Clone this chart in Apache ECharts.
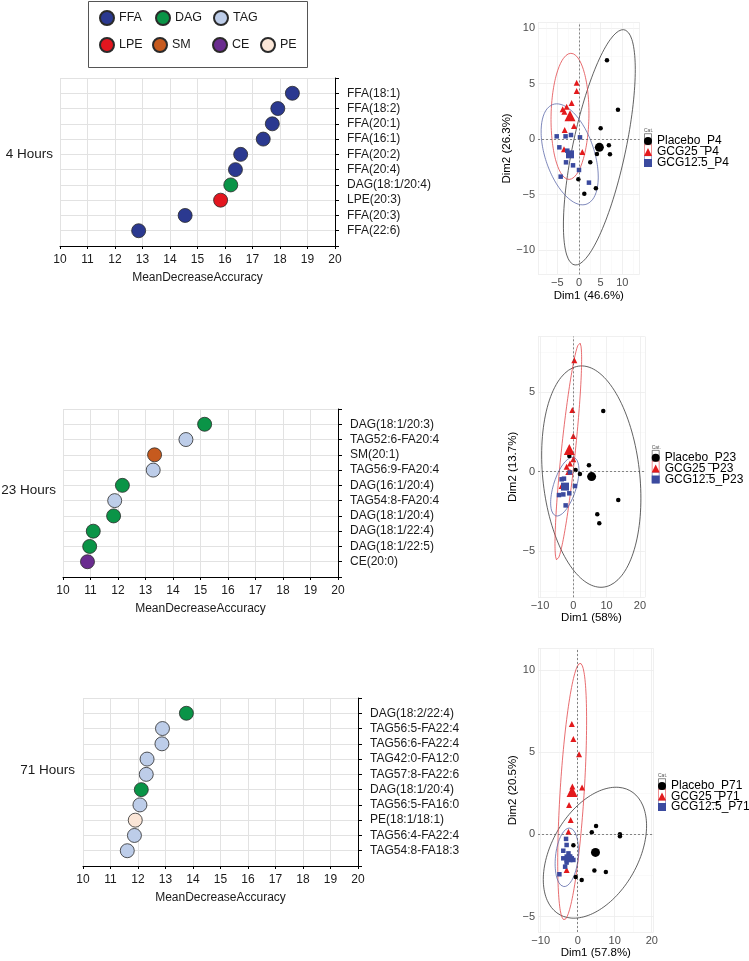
<!DOCTYPE html>
<html><head><meta charset="utf-8">
<script src="https://cdn.jsdelivr.net/npm/echarts@6/dist/echarts.min.js"></script>
<style>html,body{margin:0;padding:0;background:#fff}#chart{width:749px;height:961px}</style>
</head><body><div id="chart"></div>
<script>
// ---------------- DATA ----------------
const lipidClasses = ['FFA','DAG','TAG','LPE','SM','CE','PE'];

const h4Lipids = ['FFA(18:1)','FFA(18:2)','FFA(20:1)','FFA(16:1)','FFA(20:2)','FFA(20:4)','DAG(18:1/20:4)','LPE(20:3)','FFA(20:3)','FFA(22:6)'];
const h4MDA    = [18.45,17.92,17.72,17.39,16.57,16.38,16.21,15.84,14.55,12.86];
const h4Class  = ['FFA','FFA','FFA','FFA','FFA','FFA','DAG','LPE','FFA','FFA'];

const h23Lipids = ['DAG(18:1/20:3)','TAG52:6-FA20:4','SM(20:1)','TAG56:9-FA20:4','DAG(16:1/20:4)','TAG54:8-FA20:4','DAG(18:1/20:4)','DAG(18:1/22:4)','DAG(18:1/22:5)','CE(20:0)'];
const h23MDA    = [15.15,14.47,13.33,13.28,12.16,11.88,11.84,11.10,10.97,10.89];
const h23Class  = ['DAG','TAG','SM','TAG','DAG','TAG','DAG','DAG','DAG','CE'];

const h71Lipids = ['DAG(18:2/22:4)','TAG56:5-FA22:4','TAG56:6-FA22:4','TAG42:0-FA12:0','TAG57:8-FA22:6','DAG(18:1/20:4)','TAG56:5-FA16:0','PE(18:1/18:1)','TAG56:4-FA22:4','TAG54:8-FA18:3'];
const h71MDA    = [13.76,12.89,12.87,12.33,12.30,12.12,12.07,11.90,11.87,11.61];
const h71Class  = ['DAG','TAG','TAG','TAG','TAG','DAG','TAG','PE','TAG','TAG'];

const panelTitles = ['4 Hours','23 Hours','71 Hours'];
const mdaTicks = {min:10, max:20, step:1};

const pcaGroups = ['Placebo','GCG25','GCG12.5'];

const p4Placebo = [[6.46,7.09],[9.0,2.64],[5.0,0.96],[6.9,-0.57],[7.15,-1.38],[4.15,-1.35],[2.6,-2.1],[-0.15,-3.63],[3.9,-4.44],[1.23,-4.92]];
const p4GCG25   = [[-0.54,5.07],[-0.54,4.32],[-1.7,3.24],[-2.85,2.91],[-3.77,2.67],[-3.38,2.46],[-1.15,1.17],[-3.3,0.81],[0.77,-1.17],[-3.46,-0.93]];
const p4GCG125  = [[-5.15,0.24],[-3.1,0.24],[-1.85,0.36],[0.23,0.15],[-4.54,-0.75],[-2.7,-1.05],[-3.0,-2.1],[-1.38,-2.37],[0,-2.79],[2.3,-3.93],[-4.23,-3.39]];
const p4Centroids = [[4.7,-0.75],[-2.08,2.1],[-2.08,-1.38]];
const p4Ellipses  = [{cx:4.7,cy:-0.75,rx:8.3,ry:10.6,c:0.66},{cx:-2.08,cy:2.04,rx:4.38,ry:5.68,c:0.05},{cx:-2.15,cy:-1.38,rx:6.6,ry:4.55,c:-0.45}];

const p23Placebo = [[9.0,3.82],[4.7,0.4],[-1.2,0.99],[0.7,0.1],[2.0,-0.15],[13.5,-1.78],[7.2,-2.68],[7.8,-3.25]];
const p23GCG25   = [[0.3,7.0],[-0.3,3.88],[0,2.24],[0,0.78],[-1.0,0.52],[-2.0,0.31],[-1.5,-0.02],[-1.0,0.0],[-3.5,-0.9]];
const p23GCG125  = [[-3.5,-0.48],[-2.8,-0.44],[-2.5,-0.94],[-3.0,-0.9],[0.5,-0.9],[-1.2,-1.36],[-3.0,-1.43],[-4.3,-1.47],[-2.3,-2.12],[-1.0,-0.05]];
const p23Centroids = [[5.5,-0.31],[-1.2,1.4],[-2.5,-0.94]];
const p23Ellipses  = [{cx:5.4,cy:-0.31,rx:14.9,ry:6.96,c:-0.195},{cx:-1.5,cy:1.27,rx:4.0,ry:6.83,c:0.85},{cx:-2.55,cy:-0.94,rx:4.25,ry:1.85,c:0.55}];

const p71Placebo = [[4.95,0.51],[3.8,0.12],[11.4,0.0],[11.4,-0.12],[-1.17,-0.67],[4.5,-2.2],[7.6,-2.3],[-0.54,-2.6],[1.08,-2.78]];
const p71GCG25   = [[-1.6,6.7],[-1.17,5.8],[0.36,4.87],[1.17,2.84],[-1.44,2.9],[-1.6,2.66],[-1.8,2.5],[-2.34,1.78],[-1.9,0.87],[-2.5,0.16],[-3.0,-2.17]];
const p71GCG125  = [[-3.15,-0.28],[-3.9,-1.0],[-3.0,-0.65],[-2.5,-1.16],[-3.9,-1.46],[-2.25,-1.36],[-1.6,-1.46],[-1.17,-1.56],[-3.0,-1.72],[-3.4,-1.97],[-4.95,-2.43]];
const p71Centroids = [[4.8,-1.1],[-1.53,2.6],[-2.5,-1.46]];
const p71Ellipses  = [{cx:4.65,cy:-1.12,rx:13.95,ry:3.98,c:0.41},{cx:-1.5,cy:2.6,rx:3.9,ry:7.8,c:0.55},{cx:-2.95,cy:-1.4,rx:3.15,ry:1.78,c:0.22}];

// ---------------- STYLE / LAYOUT ----------------
const FONT = '"Liberation Sans", Arial, Helvetica, sans-serif';
const classColors = {FFA:'#2B3990', DAG:'#0A9447', TAG:'#BDCDE9', LPE:'#E3161F', SM:'#C65A1E', CE:'#6A2C8F', PE:'#FBE6D7'};
const topLegendPos = {FFA:[106,17], DAG:[162,17], TAG:[220,17], LPE:[106,44], SM:[159,44], CE:[219,44], PE:[267,44]};

const dotPanels = [
  {names:h4Lipids,  vals:h4MDA,  cls:h4Class,  grid:{left:60, top:78,  width:275, height:168}, title:[53,154]},
  {names:h23Lipids, vals:h23MDA, cls:h23Class, grid:{left:63, top:409, width:275, height:168}, title:[56,490]},
  {names:h71Lipids, vals:h71MDA, cls:h71Class, grid:{left:83, top:698, width:275, height:168}, title:[75,770]}
];

const pcaSymbols = ['circle','triangle','rect'];
const pcaSizes = [4.5, 6, 4.5];
const pcaCentSizes = [9, 11, 8];
const pcaColors = ['#000000','#E31A1C','#3B4A9F'];
const ellColors = ['#3a3a3a','#E2474B','#5D69AA'];

const pcaPanels = [
  {tag:'P4', pts:[p4Placebo,p4GCG25,p4GCG125], cents:p4Centroids, ells:p4Ellipses,
   grid:{left:538, top:22.45, width:101.6, height:252}, x:[-9.47,14], y:[-12.2,10.5], xs:5, ys:5,
   xName:'Dim1 (46.6%)', yName:'Dim2 (26.3%)', yGap:23, leg:[648,[139,150,161]]},
  {tag:'P23', pts:[p23Placebo,p23GCG25,p23GCG125], cents:p23Centroids, ells:p23Ellipses,
   grid:{left:538, top:336.5, width:106.9, height:260.8}, x:[-10.6,21.5], y:[-7.9,8.5], xs:3, ys:3,
   xName:'Dim1 (58%)', yName:'Dim2 (13.7%)', yGap:16, leg:[655.7,[455.7,466.5,477.5]]},
  {tag:'P71', pts:[p71Placebo,p71GCG25,p71GCG125], cents:p71Centroids, ells:p71Ellipses,
   grid:{left:538, top:648.4, width:115.6, height:283.6}, x:[-10.73,20.5], y:[-5.94,11.3], xs:3, ys:4,
   xName:'Dim1 (57.8%)', yName:'Dim2 (20.5%)', yGap:16, leg:[662,[784,794.5,805]]}
];

function ellipsePts(e){
  const pts=[]; const d=Math.acos(e.c);
  for(let i=0;i<=144;i++){const t=2*Math.PI*i/144; pts.push([e.cx+e.rx*Math.cos(t), e.cy+e.ry*Math.cos(t-d)]);}
  return pts;
}
const minus = v => String(v).replace('-', '\u2212');

const grids=[], xAxes=[], yAxes=[], series=[], legends=[], graphics=[];

// ---- dot plots ----
dotPanels.forEach((p, pi) => {
  grids.push(p.grid);
  xAxes.push({gridIndex:pi, type:'value', min:mdaTicks.min, max:mdaTicks.max, interval:mdaTicks.step,
    axisLine:{show:true, onZero:false, lineStyle:{color:'#000', width:1}},
    axisTick:{show:true, length:3, lineStyle:{color:'#000'}},
    axisLabel:{fontSize:12, color:'#1a1a1a', fontFamily:FONT, margin:8},
    splitLine:{show:true, lineStyle:{color:'#e2e2e2', width:1}},
    name:'MeanDecreaseAccuracy', nameLocation:'middle', nameGap:26,
    nameTextStyle:{fontSize:12, color:'#1a1a1a', fontFamily:FONT}});
  yAxes.push({gridIndex:pi, type:'value', position:'right', inverse:true, min:0, max:p.names.length+1, interval:1,
    axisLine:{show:true, onZero:false, lineStyle:{color:'#000', width:1}},
    axisTick:{show:true, length:4, lineStyle:{color:'#000'}},
    axisLabel:{fontSize:12, color:'#1a1a1a', fontFamily:FONT, margin:12,
      formatter: v => (v>=1 && v<=p.names.length) ? p.names[v-1] : ''},
    splitLine:{show:true, lineStyle:{color:'#e2e2e2', width:1}}});
  lipidClasses.forEach(c => {
    const data = [];
    p.cls.forEach((k, i) => { if (k===c) data.push([p.vals[i], i+1]); });
    if (!data.length) return;
    series.push({type:'scatter', name:c, xAxisIndex:pi, yAxisIndex:pi, data, symbol:'circle', symbolSize:14, z:3,
      itemStyle:{color:classColors[c], borderColor:'#2a2a2a', borderWidth:0.8, opacity:1}});
  });
  graphics.push({type:'text', x:p.title[0], y:p.title[1],
    style:{text:panelTitles[pi], align:'right', verticalAlign:'middle', fontSize:13.5, fontFamily:FONT, fill:'#1a1a1a'}});
});

// ---- top legend ----
lipidClasses.forEach(c => {
  legends.push({data:[c], left:topLegendPos[c][0]-7, top:topLegendPos[c][1]-7, padding:0,
    itemWidth:14, itemHeight:14, icon:'circle',
    textStyle:{fontSize:12.5, color:'#1a1a1a', fontFamily:FONT}});
});
graphics.push({type:'rect', shape:{x:88.5, y:1.5, width:219, height:66},
  style:{fill:'none', stroke:'#555', lineWidth:1}});

// ---- PCA plots ----
pcaPanels.forEach((p, k) => {
  const gi = 3 + k;
  grids.push(p.grid);
  const common = {
    axisLine:{show:false, onZero:false}, axisTick:{show:false},
    splitLine:{show:true, lineStyle:{color:'#ececec', width:0.8}},
    minorTick:{show:false, splitNumber:2},
    minorSplitLine:{show:true, lineStyle:{color:'#f5f5f5', width:0.5}},
    nameLocation:'middle', nameTextStyle:{fontSize:11.5, color:'#000', fontFamily:FONT}
  };
  xAxes.push(Object.assign({gridIndex:gi, type:'value', min:p.x[0], max:p.x[1], splitNumber:p.xs,
    axisLabel:{fontSize:11, color:'#4d4d4d', fontFamily:FONT, margin:3, showMinLabel:false, showMaxLabel:false, formatter:minus},
    name:p.xName, nameGap:14}, common));
  yAxes.push(Object.assign({gridIndex:gi, type:'value', min:p.y[0], max:p.y[1], splitNumber:p.ys,
    axisLabel:{fontSize:11, color:'#4d4d4d', fontFamily:FONT, margin:3, showMinLabel:false, showMaxLabel:false, formatter:minus},
    name:p.yName, nameGap:p.yGap, nameRotate:90}, common));
  pcaGroups.forEach((g, j) => {
    const nm = g + '_' + p.tag;
    series.push({type:'line', name:nm+' ellipse', xAxisIndex:gi, yAxisIndex:gi, data:ellipsePts(p.ells[j]),
      showSymbol:false, symbol:'none', clip:false, silent:true, z:1, smooth:false,
      lineStyle:{color:ellColors[j], width:0.8}});
    const s = {type:'scatter', name:nm, xAxisIndex:gi, yAxisIndex:gi, data:p.pts[j], symbol:pcaSymbols[j],
      symbolSize:pcaSizes[j], z:3, itemStyle:{color:pcaColors[j], opacity:1}};
    if (j===0) {
      s.markLine = {silent:true, symbol:['none','none'], label:{show:false},
        lineStyle:{color:'#555', type:[2,2], width:0.7}, data:[{xAxis:0},{yAxis:0}]};
    }
    series.push(s);
    series.push({type:'scatter', name:nm+' mean', xAxisIndex:gi, yAxisIndex:gi, data:[p.cents[j]], symbol:pcaSymbols[j],
      symbolSize:pcaCentSizes[j], z:4, itemStyle:{color:pcaColors[j], opacity:1}});
    const lx = p.leg[0], ly = p.leg[1][j];
    legends.push({data:[nm], left:lx-4, top:ly-4, padding:0, itemWidth:8, itemHeight:8,
      textStyle:{fontSize:12, color:'#000', fontFamily:FONT}});
    graphics.push({type:'rect', shape:{x:lx-3.5, y:ly-5.3, width:7, height:10.6},
      style:{fill:'none', stroke:ellColors[j], lineWidth:0.6}});
  });
  graphics.push({type:'text', x:p.leg[0]-4, y:p.leg[1][0]-8,
    style:{text:'Cat.', fontSize:5, fontFamily:FONT, fill:'#555', align:'left', verticalAlign:'middle'}});
});

const chart = echarts.init(document.getElementById('chart'));
chart.setOption({
  animation:false,
  backgroundColor:'#ffffff',
  textStyle:{fontFamily:FONT},
  grid:grids, xAxis:xAxes, yAxis:yAxes, series, legend:legends, graphic:graphics
});
</script></body></html>
